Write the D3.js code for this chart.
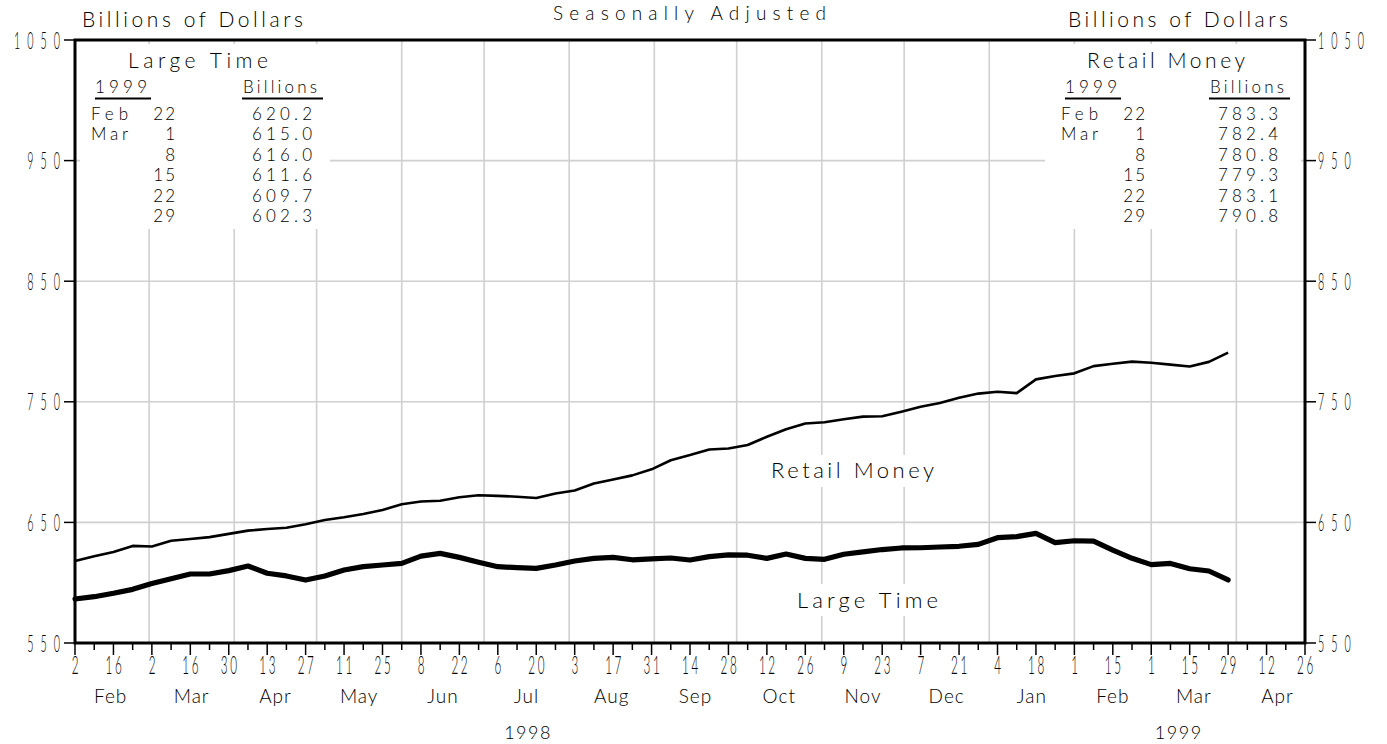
<!DOCTYPE html>
<html><head><meta charset="utf-8">
<script src="https://cdn.jsdelivr.net/npm/d3@7"></script>
<style>
body{margin:0;background:#fff;}
svg{display:block;}
text{font-family:Lato,"DejaVu Sans",sans-serif;font-weight:300;fill:#000;}
</style></head><body>
<svg id="chart" width="1387" height="744"></svg>
<script>
// ---------- data ----------
const firstWeek = "1998-02-02";          // weekly observations (Mondays)
const retailMoney = [618.0,622.0,625.5,630.5,630.0,634.8,636.3,637.8,640.5,643.2,
  644.5,645.6,648.5,652.0,654.3,657.0,660.3,665.0,667.3,668.0,
  670.8,672.5,672.0,671.3,670.2,674.0,676.5,682.2,685.5,689.0,
  694.0,701.5,705.8,710.5,711.3,714.2,721.0,727.2,732.0,733.0,
  735.5,737.7,738.0,741.8,745.9,749.0,753.3,756.8,758.3,757.2,
  768.6,771.4,773.6,779.6,781.6,783.3,782.4,780.8,779.3,783.1,790.8];
const largeTime = [586.5,588.4,591.2,594.5,599.3,603.3,607.2,607.2,610.0,613.8,
  607.8,605.6,602.2,605.6,610.5,613.3,614.7,616.0,622.0,624.3,
  621.0,617.0,613.3,612.5,611.9,614.7,618.0,620.2,621.0,619.0,
  619.8,620.5,618.8,621.6,623.0,622.8,620.2,623.8,620.2,619.4,
  623.6,625.5,627.5,628.8,629.0,629.6,630.2,631.8,637.3,638.2,
  640.9,633.2,634.8,634.5,627.0,620.2,615.0,616.0,611.6,609.7,602.3];
const yTicks = [550,650,750,850,950,1050];
const yDomain = [550,1050];
const xDomain = ["1998-02-02","1999-04-26"];
const yearLabels = ["1998","1999"];
const yearLabelDates = ["1998-07-17","1999-03-11"];
const tableMonths = ["Feb","Mar","","","",""];
const tableDays = ["22","1","8","15","22","29"];
const largeTimeTable = ["620.2","615.0","616.0","611.6","609.7","602.3"];
const retailTable = ["783.3","782.4","780.8","779.3","783.1","790.8"];
const tableYear = "1999";

// ---------- layout ----------
const svg = d3.select("#chart");
const L = 75, R = 1305, T = 40, B = 643;
const parse = d3.utcParse("%Y-%m-%d");
const x = d3.scaleUtc().domain(xDomain.map(parse)).range([L, R]);
const y = d3.scaleLinear().domain(yDomain).range([B, T]);
const dates = retailMoney.map((_, i) => d3.utcDay.offset(parse(firstWeek), 7 * i));

// grid
const grid = svg.append("g").attr("stroke", "#d0d0d0").attr("stroke-width", 1.6);
const months = d3.utcMonth.range(parse("1998-03-01"), parse("1999-04-02"));
grid.selectAll("line.v").data(months).join("line")
  .attr("x1", d => x(d)).attr("x2", d => x(d)).attr("y1", T).attr("y2", B);
grid.selectAll("line.h").data(yTicks.filter(v => v > yDomain[0] && v < yDomain[1])).join("line")
  .attr("x1", L).attr("x2", R).attr("y1", d => y(d)).attr("y2", d => y(d));

// white masks behind tables and labels
const masks = [[80, 44, 250, 185], [1045, 44, 256, 185], [765, 455, 175, 32], [790, 584, 155, 32]];
svg.append("g").selectAll("rect").data(masks).join("rect")
  .attr("x", d => d[0]).attr("y", d => d[1]).attr("width", d => d[2]).attr("height", d => d[3])
  .attr("fill", "#fff");

// lines
const line = d3.line().x((d, i) => x(dates[i])).y(d => y(d));
svg.append("path").datum(retailMoney).attr("d", line).attr("fill", "none")
  .attr("stroke", "#000").attr("stroke-width", 2.6).attr("stroke-linejoin", "round");
svg.append("path").datum(largeTime).attr("d", line).attr("fill", "none")
  .attr("stroke", "#000").attr("stroke-width", 5.2).attr("stroke-linejoin", "round").attr("stroke-linecap", "round");

// frame
svg.append("rect").attr("x", L).attr("y", T).attr("width", R - L).attr("height", B - T)
  .attr("fill", "none").attr("stroke", "#000").attr("stroke-width", 3);

// y ticks + labels (narrow digits)
const yax = svg.append("g");
yTicks.forEach(v => {
  yax.append("line").attr("x1", L - 11).attr("x2", L).attr("y1", y(v)).attr("y2", y(v)).attr("stroke", "#000").attr("stroke-width", 1.5);
  yax.append("line").attr("x1", R).attr("x2", R + 11).attr("y1", y(v)).attr("y2", y(v)).attr("stroke", "#000").attr("stroke-width", 1.5);
  yax.append("text").text(v).attr("text-anchor", "end")
    .attr("transform", `translate(${L - 15 + 7},${y(v) + 8.5}) scale(0.45,1)`)
    .style("font-size", "24px").style("letter-spacing", "15.5px");
  yax.append("text").text(v).attr("text-anchor", "start")
    .attr("transform", `translate(${R + 13},${y(v) + 8.5}) scale(0.45,1)`)
    .style("font-size", "24px").style("letter-spacing", "15.5px");
});

// x ticks
const weeks = d3.utcMonday.range(parse(xDomain[0]), d3.utcDay.offset(parse(xDomain[1]), 1));
const xax = svg.append("g");
weeks.forEach((d, i) => {
  const major = i % 2 === 0;
  xax.append("line").attr("x1", x(d)).attr("x2", x(d)).attr("y1", B).attr("y2", B + (major ? 12 : 7))
    .attr("stroke", "#000").attr("stroke-width", 1.5);
  if (major) {
    xax.append("text").text(d.getUTCDate()).attr("text-anchor", "middle")
      .attr("transform", `translate(${x(d) + 1.5},${B + 31}) scale(0.45,1)`)
      .style("font-size", "26px").style("letter-spacing", "6px");
  }
});
// month labels
const allMonths = d3.utcMonth.range(parse("1998-02-01"), parse("1999-05-01"));
svg.append("g").selectAll("text").data(allMonths).join("text")
  .attr("x", d => (x(d) + x(d3.utcMonth.offset(d, 1))) / 2).attr("y", 703)
  .attr("text-anchor", "middle").style("font-size", "19px").style("letter-spacing", "1px")
  .text(d => d3.utcFormat("%b")(d));
svg.append("g").selectAll("text").data(yearLabels).join("text")
  .attr("x", (d, i) => x(parse(yearLabelDates[i]))).attr("y", 739)
  .attr("text-anchor", "middle").style("font-size", "18px").style("letter-spacing", "1.5px")
  .text(d => d);

// headers
function txt(s, xx, yy, size, len, anchor) {
  const t = svg.append("text").text(s).attr("x", xx).attr("y", yy).style("font-size", size + "px")
    .attr("text-anchor", anchor || "start");
  if (len) t.attr("textLength", len).attr("lengthAdjust", "spacing");
  return t;
}
txt("Seasonally Adjusted", 553, 20, 19, 273);
txt("Billions of Dollars", 82, 27, 21, 221);
txt("Billions of Dollars", 1068, 27, 21, 220);

// chart labels
txt("Retail Money", 771, 478, 22, 163);
txt("Large Time", 797, 608, 22, 141);

// tables
function table(x0, title, titleX, titleLen, yearX, billX, dayEnd, valX, vals) {
  txt(title, titleX, 68, 21, titleLen);
  txt(tableYear, yearX, 93, 17, 52);
  svg.append("line").attr("x1", yearX).attr("x2", yearX + 56).attr("y1", 98.5).attr("y2", 98.5).attr("stroke", "#000").attr("stroke-width", 2);
  txt("Billions", billX, 93, 17, 74);
  svg.append("line").attr("x1", billX - 1).attr("x2", billX + 80).attr("y1", 98.5).attr("y2", 98.5).attr("stroke", "#000").attr("stroke-width", 2);
  vals.forEach((v, i) => {
    const yy = 120 + 20.4 * i;
    if (tableMonths[i]) txt(tableMonths[i], x0, yy, 17, 37);
    txt(tableDays[i], dayEnd + 2, yy, 17, null, "end").style("letter-spacing", "2px");
    txt(v, valX, yy, 17, 60);
  });
}
table(91, "Large Time", 128, 140, 95, 243, 175, 252, largeTimeTable);
table(1061, "Retail Money", 1087, 158, 1065, 1210, 1145, 1218, retailTable);
</script>
</body></html>
